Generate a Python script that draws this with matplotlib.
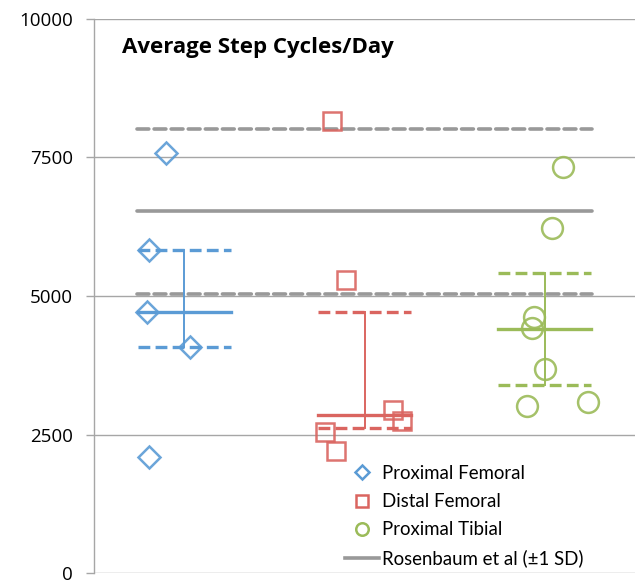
import matplotlib
matplotlib.use('Agg')
import matplotlib.pyplot as plt
from matplotlib.lines import Line2D

plt.rcParams['font.family'] = ['Lato', 'DejaVu Sans']
plt.rcParams['lines.scale_dashes'] = False

# ---- data ----
groups = ['Proximal Femoral', 'Distal Femoral', 'Proximal Tibial']
group_pos = [1, 2, 3]
pf_x = [0.90, 0.806, 0.795, 1.03, 0.806]
pf_y = [7580, 5830, 4720, 4085, 2095]
df_x = [1.82, 1.90, 2.16, 2.21, 1.78, 1.84]
df_y = [8160, 5290, 2940, 2745, 2545, 2200]
pt_x = [3.10, 3.04, 2.94, 2.93, 3.00, 2.90, 3.24]
pt_y = [7330, 6230, 4620, 4420, 3680, 3015, 3085]
medians = [4717, 2850, 4410]
q1 = [4085, 2615, 3395]
q3 = [5830, 4715, 5420]
ref_mean = 6535
ref_low = 5030
ref_high = 8015
ref_label = 'Rosenbaum et al (\u00b11 SD)'
yticks = [0, 2500, 5000, 7500, 10000]
title = 'Average Step Cycles/Day'

colors = ['#5B9BD5', '#DA6560', '#9BBB59']
markers = ['D', 's', 'o']
msizes = [11, 12.5, 15]
gray = '#999999'
grid_gray = '#A6A6A6'

W, H = 635, 581
fig = plt.figure(figsize=(W / 100, H / 100), dpi=100)
ax = fig.add_axes([94 / W, 1 - 573 / H, 1 - 94 / W, (573 - 19) / H])

ax.set_xlim(0.5, 3.5)
ax.set_ylim(0, 10000)
ax.set_yticks(yticks)
ax.set_yticklabels([str(t) for t in yticks], fontsize=13.5, family='Open Sans')
ax.set_xticks([])
ax.yaxis.grid(True, color=grid_gray, lw=1.0)
ax.set_axisbelow(True)
for s in ['top', 'right', 'bottom']:
    ax.spines[s].set_visible(False)
ax.spines['left'].set_color(grid_gray)
ax.spines['left'].set_linewidth(1.0)
ax.tick_params(axis='y', length=6, color=grid_gray, width=1.0, pad=9)

# reference lines
x0, x1 = 0.738, 3.262
ax.plot([x0, x1], [ref_mean, ref_mean], color=gray, lw=2.6, solid_capstyle='round', zorder=3)
for v in (ref_low, ref_high):
    ax.plot([x0, x1], [v, v], color=gray, lw=2.6, dashes=(8.5, 3.8), dash_capstyle='round', zorder=3)

# points
xs = [pf_x, df_x, pt_x]
ys = [pf_y, df_y, pt_y]
for i in range(3):
    ax.plot(xs[i], ys[i], ls='none', marker=markers[i], ms=msizes[i], mfc='none',
            mec=colors[i], mew=1.8, zorder=4, alpha=0.9)

# group summary lines
hw = 0.258
for i, p in enumerate(group_pos):
    c = colors[i]
    ax.plot([p - hw, p + hw], [medians[i], medians[i]], color=c, lw=2.4, zorder=5)
    for v in (q1[i], q3[i]):
        ax.plot([p - hw, p + hw], [v, v], color=c, lw=2.4, dashes=(8.5, 3.8), zorder=5)
    ax.plot([p, p], [q1[i], q3[i]], color=c, lw=1.4, zorder=5)

fig.text(122 / W, 1 - 47 / H, title, fontsize=16, fontweight='bold', ha='left', va='center',
         family='Open Sans')

handles = [Line2D([], [], ls='none', marker=markers[i], ms=[7.5, 9, 9][i], mfc='none',
                  mec=colors[i], mew=1.8) for i in range(3)]
handles.append(Line2D([], [], color=gray, lw=2.6))
labels = groups + [ref_label]
ax.legend(handles, labels, loc='upper left', bbox_to_anchor=(345 / W, 1 - 465 / H),
          bbox_transform=fig.transFigure, frameon=False, fontsize=13.4, handlelength=1.85,
          handletextpad=0.15, labelspacing=0.6, borderpad=0, borderaxespad=0)

fig.savefig('out.png', dpi=100)
